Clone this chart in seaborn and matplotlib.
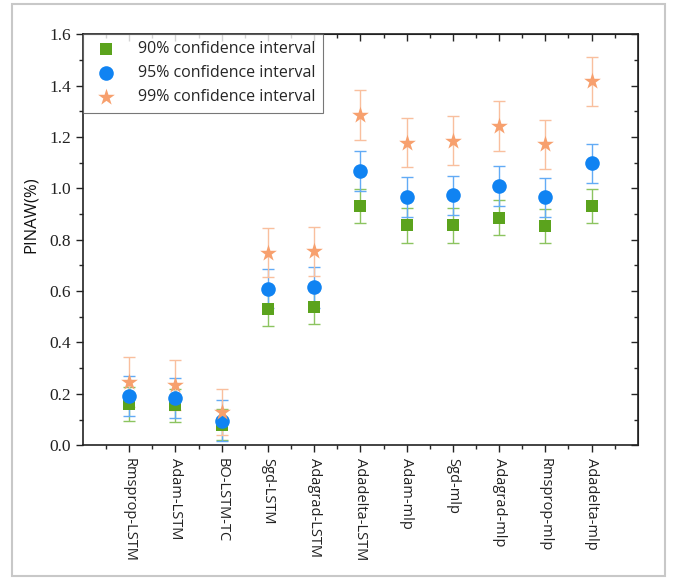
import numpy as np
import pandas as pd
import matplotlib
matplotlib.use("Agg")
import matplotlib.pyplot as plt
import seaborn as sns
from matplotlib.patches import Rectangle

categories = ["Rmsprop-LSTM", "Adam-LSTM", "BO-LSTM-TC", "Sgd-LSTM", "Adagrad-LSTM",
              "Adadelta-LSTM", "Adam-mlp", "Sgd-mlp", "Adagrad-mlp", "Rmsprop-mlp", "Adadelta-mlp"]
series_names = ["90% confidence interval", "95% confidence interval", "99% confidence interval"]
ci90 = [0.160, 0.155, 0.080, 0.530, 0.540, 0.932, 0.856, 0.856, 0.886, 0.854, 0.932]
ci95 = [0.192, 0.185, 0.095, 0.610, 0.615, 1.067, 0.967, 0.973, 1.009, 0.965, 1.097]
ci99 = [0.246, 0.235, 0.130, 0.750, 0.755, 1.285, 1.177, 1.185, 1.242, 1.172, 1.417]
err90 = [0.065, 0.065, 0.060, 0.065, 0.068, 0.067, 0.067, 0.067, 0.067, 0.067, 0.067]
err95 = [0.078, 0.077, 0.080, 0.075, 0.080, 0.077, 0.077, 0.075, 0.077, 0.077, 0.077]
err99 = [0.097, 0.097, 0.090, 0.095, 0.095, 0.097, 0.095, 0.095, 0.097, 0.095, 0.095]
yticks = [0.0, 0.2, 0.4, 0.6, 0.8, 1.0, 1.2, 1.4, 1.6]

colors = ["#5ba31d", "#1083f2", "#f7a06e"]
err_colors = ["#8cc460", "#62abf5", "#f9bf9e"]
markers = ["s", "o", "*"]
sizes = [70, 110, 160]

df = pd.DataFrame({
    "category": categories * 3,
    "value": ci90 + ci95 + ci99,
    "err": err90 + err95 + err99,
    "series": sum([[s] * len(categories) for s in series_names], []),
})

sns.set_style("white")
fig = plt.figure(figsize=(6.8, 5.79), dpi=100)
ax = fig.add_axes([0.122, 0.231, 0.816, 0.710])

pos = {c: i for i, c in enumerate(categories)}
for i, s in enumerate(series_names):
    sub = df[df["series"] == s]
    ax.errorbar([pos[c] for c in sub["category"]], sub["value"], yerr=sub["err"],
                fmt="none", ecolor=err_colors[i], elinewidth=1.0, capsize=4, capthick=1.0, zorder=1)

for i, s in enumerate(series_names):
    sub = df[df["series"] == s]
    sns.scatterplot(data=sub, x="category", y="value", marker=markers[i], color=colors[i],
                    s=sizes[i], linewidth=0, ax=ax, label=s, zorder=3 + i)

ax.set_xlim(-1, len(categories))
ax.set_ylim(0, 1.6)
ax.set_yticks(yticks)
ax.set_yticklabels([f"{t:.1f}" for t in yticks], family="Liberation Serif", fontsize=12.5)
ax.set_yticks(np.arange(0.1, 1.6, 0.2), minor=True)
ax.set_xticks(range(len(categories)))
ax.set_xticks(np.arange(-0.5, len(categories), 1.0), minor=True)
ax.set_xticklabels(categories, rotation=-90, fontsize=10.5, family="Open Sans")
ax.set_xlabel("")
ax.set_ylabel("PINAW(%)", fontsize=12, family="Open Sans", color="#111111")
ax.yaxis.set_label_coords(-0.080, 0.56)

for sp in ax.spines.values():
    sp.set_color("#222222")
    sp.set_linewidth(1.2)

ax.tick_params(axis="both", which="major", direction="out", length=5, width=1.0,
               bottom=True, left=True, top=False, right=False, colors="#222222")
ax.tick_params(axis="both", which="minor", direction="out", length=3, width=1.0,
               bottom=True, left=True)
ax.tick_params(axis="x", pad=4)

top = ax.secondary_xaxis("top")
top.set_xticks(range(len(categories)))
top.set_xticks(np.arange(-0.5, len(categories), 1.0), minor=True)
top.tick_params(which="major", direction="in", length=5, width=1.0, labeltop=False)
top.tick_params(which="minor", direction="in", length=3, width=1.0)
top.set_xticklabels([])
right = ax.secondary_yaxis("right")
right.set_yticks(yticks)
right.set_yticks(np.arange(0.1, 1.6, 0.2), minor=True)
right.tick_params(which="major", direction="in", length=5, width=1.0, labelright=False)
right.tick_params(which="minor", direction="in", length=3, width=1.0)
right.set_yticklabels([])

leg = ax.legend(loc="upper left", frameon=True, fancybox=False,
                borderaxespad=0.0, handletextpad=1.0, borderpad=0.45, labelspacing=0.5,
                prop={"family": "Open Sans", "size": 11.5})
leg.get_frame().set_edgecolor("#555555")
leg.get_frame().set_linewidth(0.8)

fig.patches.append(Rectangle((12 / 680, 3 / 579), 653 / 680, 572 / 579, transform=fig.transFigure,
                             fill=False, edgecolor="#c8c8c8", linewidth=1.5))

fig.savefig("out.png", dpi=100)
